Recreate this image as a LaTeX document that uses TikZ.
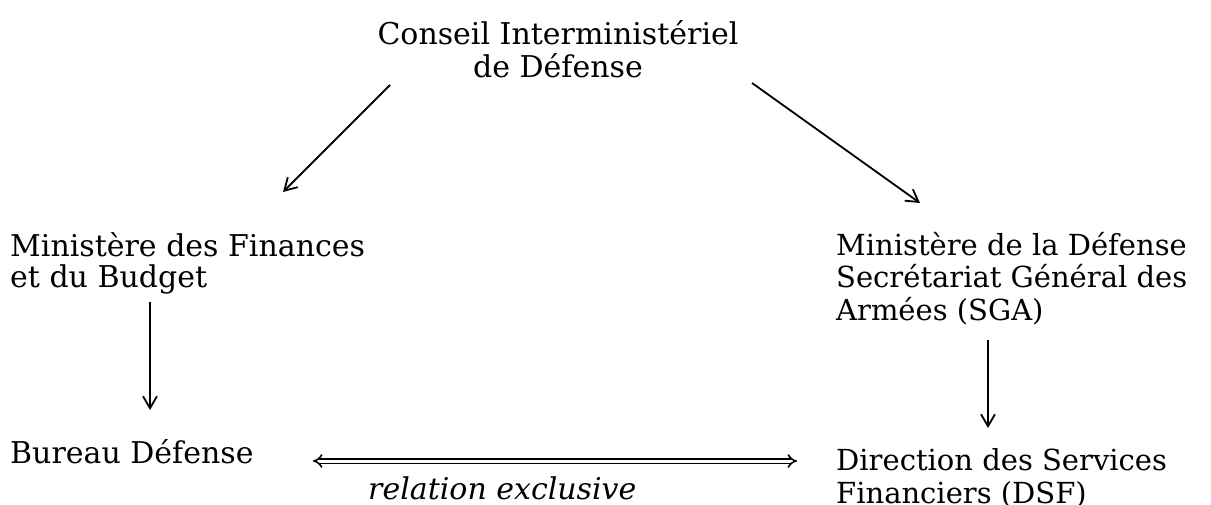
\documentclass[tikz,border=0pt]{standalone}
\usepackage{fontspec}
\setmainfont{DejaVu Serif}
\usetikzlibrary{arrows.meta}
\begin{document}
\begin{tikzpicture}[x=1pt,y=-1pt,
  lbl/.style={inner sep=0pt,font=\fontsize{29}{32.5}\selectfont,align=left},
  conn/.style={line width=1.8pt,-{Straight Barb[length=12pt,width=14pt,line width=1.8pt]}}]
\useasboundingbox (0,0) rectangle (1211,505);
\node[lbl,align=center,anchor=base,font=\fontsize{30}{33}\selectfont] (cid) at (558,78) {Conseil Interministériel\\de Défense};
\node[lbl,anchor=base west,font=\fontsize{30}{32}\selectfont] (mfb) at (10,288) {Ministère des Finances\\et du Budget};
\node[lbl,anchor=base west] (mdd) at (836,320) {Ministère de la Défense\\Secrétariat Général des\\Armées (SGA)};
\node[lbl,anchor=base west,font=\fontsize{30}{32}\selectfont] (bd) at (10,463) {Bureau Défense};
\node[lbl,anchor=base west] (dsf) at (836,503) {Direction des Services\\Financiers (DSF)};
\node[lbl,anchor=base west,font=\fontsize{30}{32}\selectfont\itshape] (rel) at (368,499) {relation exclusive};
\coordinate (a1s) at (390,85);
\coordinate (a1e) at (283,192);
\coordinate (a2s) at (752,83);
\coordinate (a2e) at (920,203);
\coordinate (a3s) at (150,302);
\coordinate (a3e) at (150,410);
\coordinate (a4s) at (988,340);
\coordinate (a4e) at (988,428);
\coordinate (dl) at (313,461);
\coordinate (dr) at (797,461);
\draw[conn] (a1s) -- (a1e);
\draw[conn] (a2s) -- (a2e);
\draw[conn] (a3s) -- (a3e);
\draw[conn] (a4s) -- (a4e);
\draw[double,double distance=3pt,line width=1.6pt,{Implies[length=10pt]}-{Implies[length=10pt]}] (dl) -- (dr);
\end{tikzpicture}
\end{document}
